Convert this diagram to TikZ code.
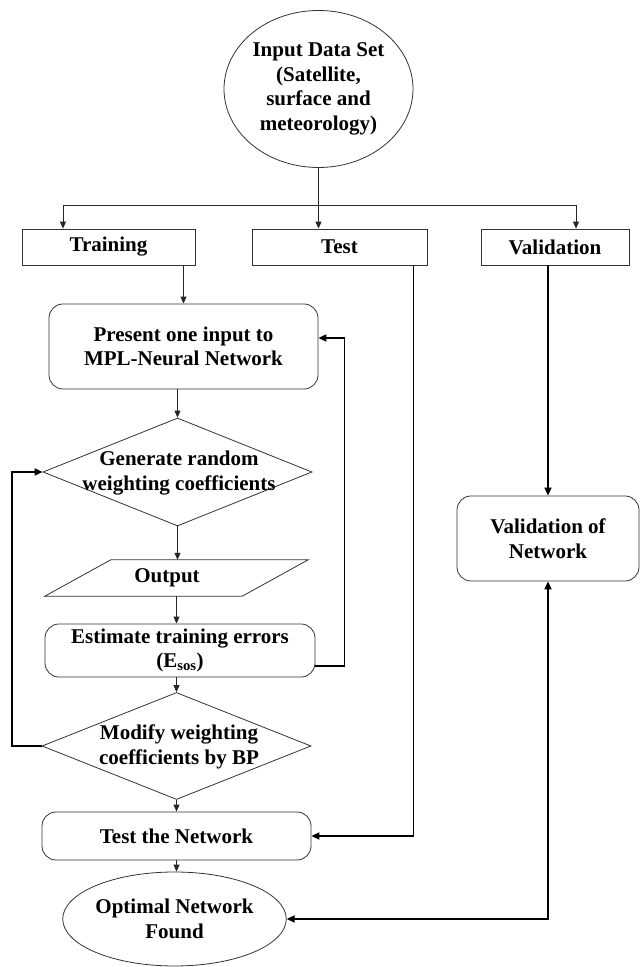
\documentclass[tikz,border=0pt]{standalone}
\usepackage{fontspec}
\setmainfont{Liberation Serif}
\usetikzlibrary{shapes.geometric,arrows.meta}

\begin{document}
\begin{tikzpicture}[x=1pt,y=1pt,
  every node/.style={font=\fontsize{21}{24.5}\selectfont\bfseries,inner sep=0pt,align=center},
  flowbox/.style={draw=black!80,line width=0.8pt,minimum height=36pt},
  flowround/.style={flowbox,rounded corners=14pt},
  flowdecision/.style={diamond,draw=black!80,line width=0.8pt},
  flowrule/.style={black!85,line width=0.9pt},
  flowarrow/.style={flowrule,-{Triangle[length=7pt,width=6pt]}},
  flowloop/.style={black,line width=1.8pt,-{Triangle[length=8pt,width=7pt]}}]
\useasboundingbox (0,0) rectangle (640,967);
% data set and the three subsets
\node[ellipse,draw=black!80,line width=0.8pt,minimum width=189pt,minimum height=157pt] (inputset) at (318.5,878)
  {Input Data Set\\(Satellite,\\surface and\\meteorology)};
\node[flowbox,minimum width=173pt] (training) at (108.5,720) {Training};
\node[flowbox,minimum width=175pt] (test) at (339.5,720) {Test};
\node[flowbox,minimum width=148pt] (validation) at (555,720) {Validation};
\coordinate (splitl) at (63,762);
\coordinate (splitr) at (576,762);
% training loop
\node[flowround,minimum width=269pt,minimum height=85pt] (present) at (183.5,620.5) {Present one input to\\MPL-Neural Network};
\node[flowdecision,minimum width=269pt,minimum height=108pt] (gen) at (177.5,495) {};
\node (gentext) at (179,494) {Generate random\\weighting coefficients};
\node[minimum width=197pt,minimum height=36pt] (output) at (176.5,389) {};
\node (outputtext) at (167,389) {Output};
\draw[black!80,line width=0.8pt] ([xshift=33pt]output.north west) -- ([xshift=33pt]output.north east)
  -- ([xshift=-33pt]output.south east) -- ([xshift=-33pt]output.south west) -- cycle;
\node[flowround,minimum width=270pt,minimum height=53pt] (estimate) at (180,316.5) {Estimate training errors\\(E\textsubscript{sos})};
\node[flowdecision,minimum width=269pt,minimum height=107pt] (modify) at (176.5,221) {};
\node (modifytext) at (179,220) {Modify weighting\\coefficients by BP};
\node[flowround,minimum width=269pt,minimum height=48pt] (testnet) at (176.5,131) {Test the Network};
\node[ellipse,draw=black!80,line width=0.8pt,minimum width=215pt,minimum height=94pt] (optimal) at (174.5,48) {Optimal Network\\Found};
\node[flowround,minimum width=182pt,minimum height=85pt] (valnet) at (548,428.5) {Validation of\\Network};
% connectors
\draw[flowarrow] (inputset.south) -- (inputset.south |- test.north);
\draw[flowrule] (splitl) -- (splitr);
\draw[flowarrow] (splitl) -- (splitl |- training.north);
\draw[flowarrow] (splitr) -- (splitr |- validation.north);
\draw[flowarrow] (present.north |- training.south) -- (present.north);
\draw[flowarrow] (gen.north |- present.south) -- (gen.north);
\draw[flowarrow] (gen.south) -- (gen.south |- output.north);
\draw[flowarrow] (output.south) -- (output.south |- estimate.north);
\draw[flowarrow] (modify.north |- estimate.south) -- (modify.north);
\draw[flowarrow] (modify.south) -- (modify.south |- testnet.north);
\draw[flowarrow] (testnet.south) -- (testnet.south |- optimal.north);
\draw[flowloop] ([yshift=-15.5pt]estimate.east) -- ++(29,0) |- ([yshift=8.5pt]present.east);
\draw[flowloop] (modify.west) -- ++(-30,0) |- (gen.west);
\draw[flowloop] ([xshift=-14pt]test.south east) |- (testnet.east);
\draw[flowloop] (valnet.north |- validation.south) -- (valnet.north);
\draw[flowloop,{Triangle[length=8pt,width=7pt]}-{Triangle[length=8pt,width=7pt]}] (valnet.south) |- (optimal.east);
\end{tikzpicture}
\end{document}
